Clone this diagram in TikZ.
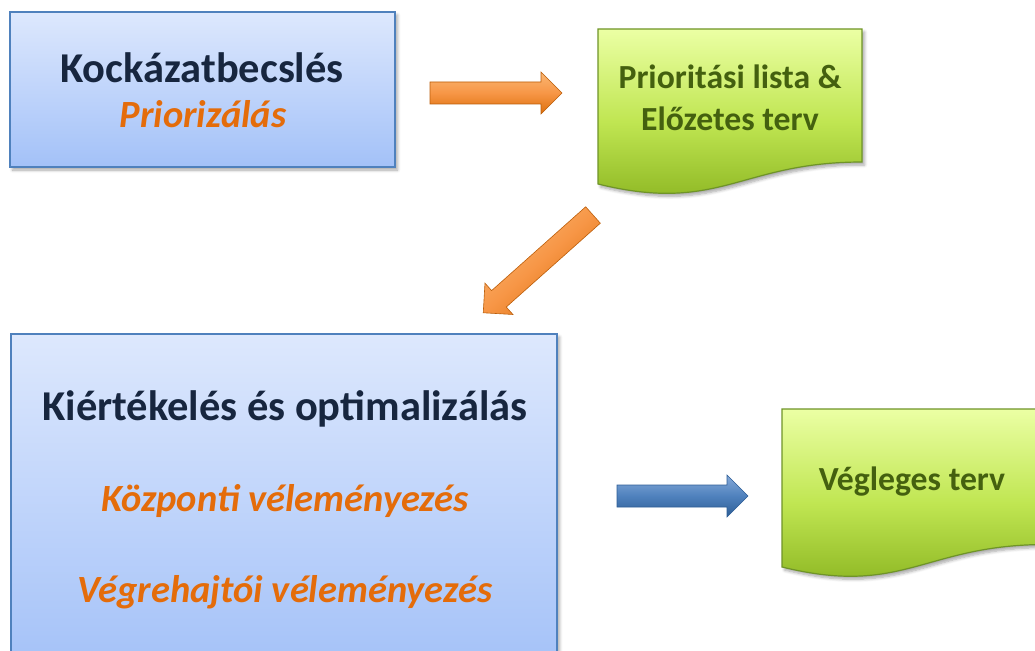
\documentclass[tikz,border=0pt]{standalone}
\usepackage{fontspec}
\setmainfont{Carlito}
\usetikzlibrary{shadows.blur}
\definecolor{navytext}{HTML}{17263F}
\definecolor{orangetext}{HTML}{E46C0A}
\definecolor{greentext}{HTML}{44600F}
\definecolor{blueborder}{HTML}{4F81BD}
\definecolor{bluetop}{HTML}{DDE8FD}
\definecolor{bluebot}{HTML}{A3C1F8}
\definecolor{greenborder}{HTML}{6F9428}
\definecolor{greentop}{HTML}{EBFFA4}
\definecolor{greenmid}{HTML}{C0E652}
\definecolor{greenbot}{HTML}{86B01C}
\definecolor{orlight}{HTML}{FAB774}
\definecolor{ormid}{HTML}{F79646}
\definecolor{ordark}{HTML}{DC6F0C}
\definecolor{bllight}{HTML}{86AAD9}
\definecolor{blmid}{HTML}{4F81BD}
\definecolor{bldark}{HTML}{2E5E96}
\tikzset{
  softshadow/.style={blur shadow={shadow xshift=2.5pt, shadow yshift=-3pt, shadow blur steps=6, shadow blur radius=3pt, shadow opacity=35}},
  bluebox/.style={draw=blueborder, line width=1.4pt, top color=bluetop, bottom color=bluebot, softshadow},
  docshape/.style={draw=greenborder, line width=1.2pt, top color=greentop, bottom color=greenbot, middle color=greenmid, softshadow},
  titletext/.style={font=\fontsize{42.5}{50}\selectfont\bfseries, text=navytext, anchor=base, inner sep=0pt},
  subtext/.style={font=\fontsize{38.5}{46}\selectfont\bfseries\itshape, text=orangetext, anchor=base, inner sep=0pt},
  doctext/.style={font=\fontsize{33.7}{40}\selectfont\bfseries, text=greentext, anchor=base, inner sep=0pt},
  orangearrow/.style={draw=ordark!85!black, line width=0.6pt, top color=orlight, bottom color=ordark, middle color=ormid, softshadow},
  bluearrow/.style={draw=bldark, line width=0.6pt, top color=bllight, bottom color=bldark, middle color=blmid, softshadow},
  pics/barrow/.style={code={
    \path[pic actions] (0,-11) -- ({#1-21},-11) -- ({#1-21},-21) -- (#1,0)
      -- ({#1-21},21) -- ({#1-21},11) -- (0,11) -- cycle;
  }}
}
\begin{document}
\begin{tikzpicture}[x=1pt,y=-1pt]
\useasboundingbox (0,0) rectangle (1035,650);

% box 1
\node[bluebox, minimum width=385pt, minimum height=155pt, inner sep=0pt] (box1) at (202.5,89.5) {};
\node[titletext] (t1) at (202,82.5) {Kockázatbecslés};
\node[subtext] (t2) at (203,128) {Priorizálás};

% document 1
\path[docshape] (598,29) -- (862,29) -- (862,162) .. controls (740,162) and (720,214) .. (598,184) -- cycle;
\node[doctext] (d1a) at (730,89) {Prioritási lista \&};
\node[doctext] (d1b) at (730,131) {Előzetes terv};

% box 2
\node[bluebox, minimum width=546pt, minimum height=340pt, inner sep=0pt] (box2) at (284,504) {};
\node[titletext] (t3) at (285,420) {Kiértékelés és optimalizálás};
\node[subtext] (t4) at (285,511) {Központi véleményezés};
\node[subtext] (t5) at (285,602) {Végrehajtói véleményezés};

% document 2
\path[docshape] (782,409) -- (1046,409) -- (1046,544.5) .. controls (924,544.5) and (904,597) .. (782,567) -- cycle;
\node[doctext] (d2) at (912,490) {Végleges terv};

% arrows
\pic[orangearrow] (a1) at (430,93) {barrow=132};
\pic[orangearrow, shading angle=41.7, rotate=221.7] (a2) at (593,215) {barrow=147};
\pic[bluearrow] (a3) at (617,496) {barrow=131};
\end{tikzpicture}
\end{document}
